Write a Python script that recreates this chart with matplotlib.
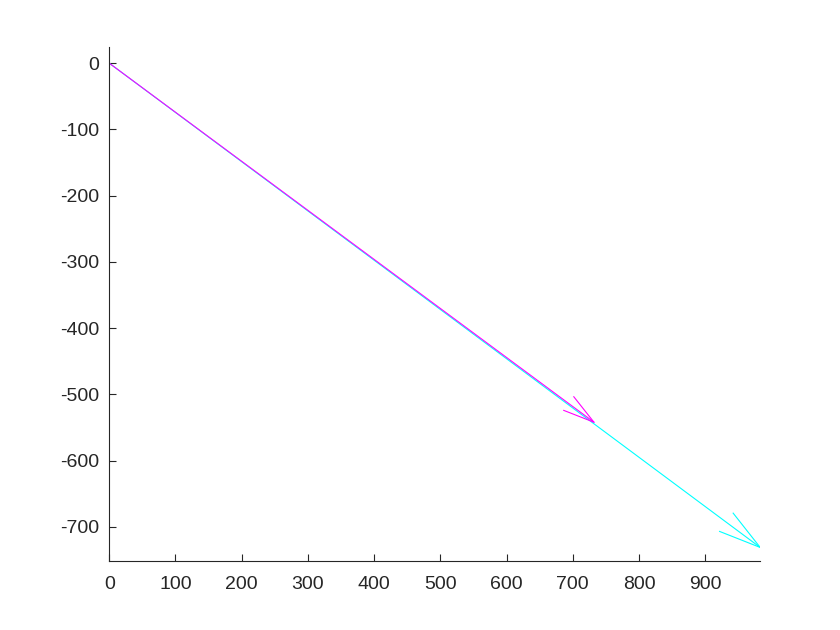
import matplotlib.pyplot as plt
import numpy as np

# two vectors from the origin (quiver style)
u = [983, 732]
v = [-731, -542]
colors = ['#00ffff', '#ff00ff']

xlim = (0, 983)
ylim = (-751, 24)
xticks = list(range(0, 1000, 100))
yticks = list(range(-700, 100, 100))

plt.rcParams['axes.unicode_minus'] = False
plt.rcParams['font.family'] = ['Liberation Sans', 'DejaVu Sans']

fig = plt.figure(figsize=(8.4, 6.3), dpi=100)
ax = fig.add_axes([0.13, 0.11, 0.775, 0.815])

alpha, beta = 0.052, 0.27
for uu, vv, c in zip(u, v, colors):
    ax.plot([0, uu], [0, vv], color=c, lw=0.8)
    # arrow head barbs
    hx = [uu - alpha * (uu + beta * vv), uu, uu - alpha * (uu - beta * vv)]
    hy = [vv - alpha * (vv - beta * uu), vv, vv - alpha * (vv + beta * uu)]
    ax.plot(hx, hy, color=c, lw=0.8)

ax.set_xlim(*xlim)
ax.set_ylim(*ylim)
ax.set_xticks(xticks)
ax.set_yticks(yticks)
ax.spines['top'].set_visible(False)
ax.spines['right'].set_visible(False)
for s in ['left', 'bottom']:
    ax.spines[s].set_linewidth(0.8)
    ax.spines[s].set_color('#262626')
ax.tick_params(direction='in', length=5, width=0.8, color='#262626',
               labelsize=14, labelcolor='#262626', pad=7)
ax.tick_params(axis='x', pad=11)

fig.savefig('out.png', dpi=100)
